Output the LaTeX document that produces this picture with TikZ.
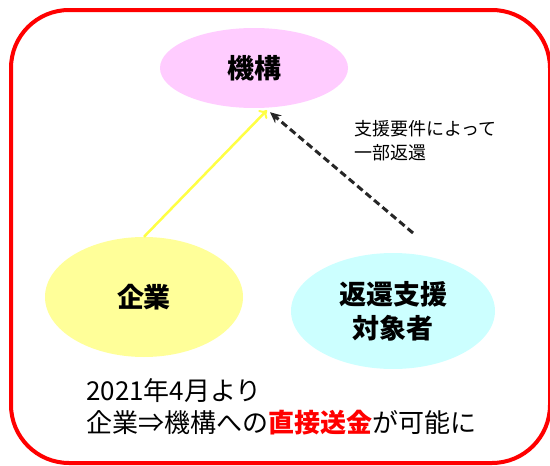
\documentclass[tikz,border=0pt]{standalone}
\usepackage{fontspec}
\setmainfont{Noto Sans CJK JP}
\usetikzlibrary{shapes.geometric,arrows.meta,calc}
\definecolor{frame}{HTML}{FF0000}
\definecolor{pinkfill}{HTML}{FFCCFF}
\definecolor{yelfill}{HTML}{FFFF99}
\definecolor{cyanfill}{HTML}{CCFFFF}
\definecolor{yelline}{HTML}{FFFF44}
\tikzset{
  blob/.style={ellipse, draw=none, inner sep=0pt, font=\fontsize{27}{34}\selectfont\bfseries, align=center},
  note/.style={inner sep=0pt, align=left},
}
\begin{document}
\begin{tikzpicture}[x=1pt,y=-1pt]
\useasboundingbox (0,0) rectangle (550,466);
\draw[frame, line width=4pt, rounded corners=58pt] (11,10) rectangle (550,463);
\node[blob, fill=pinkfill, minimum width=188pt, minimum height=80pt] (kikou) at (254,68) {機構};
\node[blob, fill=yelfill, minimum width=198pt, minimum height=120pt] (kigyo) at (144,297) {企業};
\node[blob, fill=cyanfill, minimum width=204pt, minimum height=116pt] (taisho) at (393,311) {返還支援\\対象者};
\coordinate (tipA) at ($(kikou.south)+(13,2)$);
\coordinate (tipB) at ($(kikou.south)+(16,4)$);
\coordinate (dstart) at (413,233);
\draw[yelline, line width=2.5pt, -{To[length=7pt,width=12pt,line width=2pt]}] (kigyo.north) -- (tipA);
\draw[black!85, line width=3pt, dash pattern=on 7pt off 4pt, -{Stealth[length=11pt,width=10pt]}] (dstart) -- (tipB);
\node[note, anchor=north west, font=\fontsize{18}{24}\selectfont] (cond) at (354,120) {支援要件によって\\一部返還};
\node[note, anchor=north west, font=\fontsize{26}{32}\selectfont] (since) at (86,378) {2021年4月より\\企業⇒機構への{\color{frame}\bfseries 直接送金}が可能に};
\end{tikzpicture}
\end{document}
